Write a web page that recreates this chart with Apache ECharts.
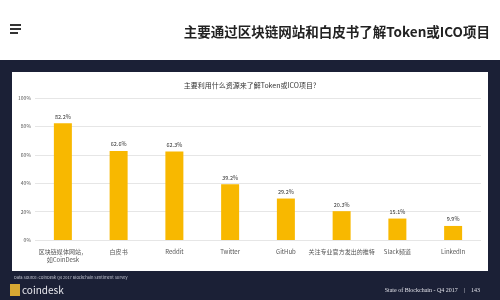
<!DOCTYPE html>
<html><head><meta charset="utf-8">
<script src="https://cdn.jsdelivr.net/npm/echarts@6/dist/echarts.min.js"></script>
<style>html,body{margin:0;padding:0;background:#fff}#c{width:500px;height:300px}</style>
</head><body><div id="c"></div>
<script>
const categories = ['区块链媒体网站，\n如CoinDesk', '白皮书', 'Reddit', 'Twitter', 'GitHub', '关注专业官方发出的推特', 'Slack频道', 'LinkedIn'];
const values = [82.2, 62.6, 62.3, 39.2, 29.2, 20.3, 15.1, 9.9];
const yTicks = [0, 20, 40, 60, 80, 100];
const pageTitle = '主要通过区块链网站和白皮书了解Token或ICO项目';
const chartTitle = '主要利用什么资源来了解Token或ICO项目?';
const sourceText = 'Data Source: CoinDesk Q4 2017 Blockchain Sentiment Survey';
const footerRight = 'State of Blockchain - Q4 2017    |    143';

const chart = echarts.init(document.getElementById('c'));
const F = '"Noto Sans CJK SC", "Noto Sans", sans-serif';
chart.setOption({
  animation: false,
  textStyle: {fontFamily: F},
  graphic: [
    {type:'rect', z:-10, shape:{x:0,y:60,width:500,height:240}, style:{fill:'#1b2036'}},
    {type:'rect', z:-9, shape:{x:12,y:72,width:476,height:199}, style:{fill:'#ffffff'}},
    {type:'rect', shape:{x:10,y:24,width:11,height:2}, style:{fill:'#333'}},
    {type:'rect', shape:{x:10,y:28,width:11,height:2}, style:{fill:'#333'}},
    {type:'rect', shape:{x:10,y:32,width:8,height:2}, style:{fill:'#333'}},
    {type:'text', style:{text:pageTitle, x:490, y:32, align:'right', verticalAlign:'middle', font:'bold 13.5px '+F, fill:'#222'}},
    {type:'text', style:{text:sourceText, x:14, y:277, verticalAlign:'middle', font:'4px '+F, fill:'#c8cad6'}},
    {type:'rect', shape:{x:10,y:284,width:10,height:12}, style:{fill:'#d7a833'}},
    {type:'text', style:{text:'coindesk', x:22, y:290, verticalAlign:'middle', font:'10px '+F, fill:'#e8e8ee'}},
    {type:'text', style:{text:footerRight, x:480, y:290, align:'right', verticalAlign:'middle', font:'6px "Liberation Serif", serif', fill:'#e0e0e8'}}
  ],
  title: {text: chartTitle, left: 'center', top: 77, textStyle:{fontSize:7, fontWeight:'normal', color:'#333'}},
  grid: {left: 35, right: 19, top: 98, bottom: 60, containLabel: false},
  xAxis: {
    type: 'category', data: categories,
    axisLine: {show: false}, axisTick: {show: false},
    axisLabel: {fontSize: 6, color: '#555', interval: 0, margin: 8, lineHeight: 8}
  },
  yAxis: {
    type: 'value', min: 0, max: 100, interval: 20,
    axisLabel: {fontSize: 5, color: '#555', formatter: v => yTicks.includes(v) ? v + '%' : '', margin: 4},
    axisLine: {show: false}, axisTick: {show: false},
    splitLine: {lineStyle: {color: '#e6e6e6', width: 1}}
  },
  series: [{
    type: 'bar', data: values, barWidth: 18,
    itemStyle: {color: '#f8b800'},
    label: {show: true, position: 'top', fontSize: 5.5, color: '#333', distance: 4, formatter: p => p.value.toFixed(1) + '%'}
  }]
});
</script></body></html>
